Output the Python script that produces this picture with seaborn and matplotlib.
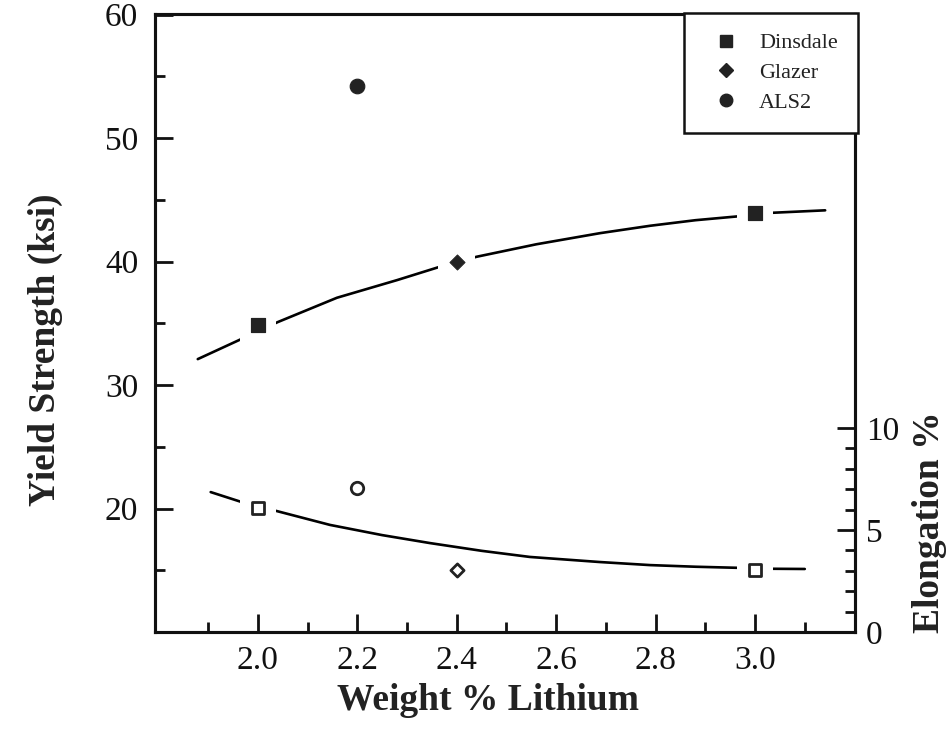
import numpy as np
import pandas as pd
import seaborn as sns
import matplotlib.pyplot as plt
from matplotlib.lines import Line2D
from matplotlib.ticker import FixedLocator

# ---- data ----
# Yield strength (left axis, ksi)
dinsdale_x = [2.0, 3.0]
dinsdale_ys = [34.9, 43.95]
glazer_x = [2.4]
glazer_ys = [40.0]
als2_x = [2.2]
als2_ys = [54.2]

# Elongation (right axis, %)
dinsdale_el = [6.1, 3.05]
glazer_el = [3.05]
als2_el = [7.05]

# Trend curves
ys_curve_x = [1.879, 1.976, 2.04, 2.159, 2.28, 2.366, 2.44, 2.56, 2.688, 2.789, 2.88, 2.976, 3.034, 3.141]
ys_curve_y = [32.1, 33.9, 35.1, 37.07, 38.5, 39.58, 40.39, 41.4, 42.3, 42.9, 43.35, 43.7, 43.95, 44.15]
el_curve_x = [1.905, 1.97, 2.03, 2.145, 2.25, 2.346, 2.45, 2.547, 2.688, 2.789, 2.88, 2.976, 3.034, 3.1]
el_curve_y = [6.86, 6.35, 5.98, 5.25, 4.75, 4.36, 3.98, 3.68, 3.43, 3.28, 3.2, 3.14, 3.1, 3.09]

x_ticks = [2.0, 2.2, 2.4, 2.6, 2.8, 3.0]
x_tick_labels = ["2.0", "2.2", "2.4", "2.6", "2.8", "3.0"]
y_ticks = [20, 30, 40, 50, 60]
el_ticks = [0, 5, 10]

sns.set_theme(style="white")
plt.rcParams['font.family'] = ['Liberation Serif', 'DejaVu Serif']

fig = plt.figure(figsize=(9.48, 7.3), dpi=100)
ax = fig.add_axes([155 / 948, 1 - 632 / 730, 700 / 948, 618 / 730])
ax2 = ax.twinx()

ax.set_xlim(1.793, 3.201)
ax.set_ylim(10, 60.05)
ax2.set_ylim(0, 30.3)

lw = 1.9
# curves
sns.lineplot(x=ys_curve_x, y=ys_curve_y, ax=ax, color='black', lw=lw, sort=False, estimator=None, zorder=2)
sns.lineplot(x=el_curve_x, y=el_curve_y, ax=ax2, color='black', lw=lw, sort=False, estimator=None, zorder=2)

# white halos (gaps in the curves around markers)
halo = dict(color='white', edgecolor='none', zorder=3, legend=False)
sns.scatterplot(x=dinsdale_x, y=dinsdale_ys, ax=ax, marker='s', s=700, **halo)
sns.scatterplot(x=glazer_x, y=glazer_ys, ax=ax, marker='s', s=700, **halo)
sns.scatterplot(x=dinsdale_x, y=dinsdale_el, ax=ax2, marker='s', s=700, **halo)

# filled markers (yield strength)
sns.scatterplot(x=dinsdale_x, y=dinsdale_ys, ax=ax, marker='s', s=115, color='#222222', edgecolor='#222222', zorder=4, legend=False)
sns.scatterplot(x=glazer_x, y=glazer_ys, ax=ax, marker='D', s=60, color='#222222', edgecolor='#222222', zorder=4, legend=False)
sns.scatterplot(x=als2_x, y=als2_ys, ax=ax, marker='o', s=110, color='#222222', edgecolor='#222222', zorder=4, legend=False)

# open markers (elongation)
sns.scatterplot(x=dinsdale_x, y=dinsdale_el, ax=ax2, marker='s', s=80, facecolor='white', edgecolor='#222222', linewidth=2, zorder=4, legend=False)
sns.scatterplot(x=glazer_x, y=glazer_el, ax=ax2, marker='D', s=45, facecolor='white', edgecolor='#222222', linewidth=2, zorder=4, legend=False)
sns.scatterplot(x=als2_x, y=als2_el, ax=ax2, marker='o', s=80, facecolor='white', edgecolor='#222222', linewidth=2, zorder=4, legend=False)

# axes styling
for a in (ax, ax2):
    for sp in a.spines.values():
        sp.set_color('#111111')
        sp.set_linewidth(2.2)
    a.grid(False)

ax.set_xticks(x_ticks)
ax.set_xticklabels(x_tick_labels)
ax.xaxis.set_minor_locator(FixedLocator([1.9, 2.1, 2.3, 2.5, 2.7, 2.9, 3.1]))
ax.set_yticks(y_ticks)
ax.yaxis.set_minor_locator(FixedLocator([15, 25, 35, 45, 55]))
ax2.set_yticks(el_ticks)
ax2.yaxis.set_minor_locator(FixedLocator([1, 2, 3, 4, 6, 7, 8, 9]))

tick_kw = dict(direction='in', colors='#111111', labelsize=24, width=2, pad=12)
ax.tick_params(axis='both', which='major', length=13, bottom=True, left=True, top=False, right=False, **tick_kw)
ax.tick_params(axis='both', which='minor', length=7, bottom=True, left=True, top=False, right=False, direction='in', width=2, colors='#111111')
ax2.tick_params(axis='y', which='major', length=13, right=True, left=False, **tick_kw)
ax2.tick_params(axis='y', which='minor', length=7, right=True, left=False, direction='in', width=2, colors='#111111')
ax.tick_params(axis='x', pad=10)
ax2.tick_params(axis='y', pad=8)

ax.set_xlabel("Weight % Lithium", fontsize=27, fontweight='bold', color='#222222')
ax.xaxis.set_label_coords((488 - 155) / 700, (632 - 701) / 618)
ax.xaxis.label.set_va('center')
ax.set_ylabel("Yield Strength (ksi)", fontsize=27, fontweight='bold', color='#222222')
ax.yaxis.set_label_coords((45 - 155) / 700, (632 - 350) / 618)
ax.yaxis.label.set_va('center')
ax2.set_ylabel("Elongation %", fontsize=27, fontweight='bold', color='#222222', rotation=90)
ax2.yaxis.set_label_coords((930 - 155) / 700, (632 - 522) / 618)
ax2.yaxis.label.set_va('center')

# legend
handles = [
    Line2D([], [], ls='none', marker='s', ms=9, color='#222222'),
    Line2D([], [], ls='none', marker='D', ms=7, color='#222222'),
    Line2D([], [], ls='none', marker='o', ms=9, color='#222222'),
]
leg = ax2.legend(handles, ["Dinsdale", "Glazer", "ALS2"], loc='upper right',
                 bbox_to_anchor=(1.004, 1.002), borderaxespad=0, fontsize=16,
                 frameon=True, fancybox=False, edgecolor='#111111',
                 handlelength=2.0, handletextpad=0.49, labelspacing=0.42,
                 borderpad=0.9, framealpha=1)
leg.get_frame().set_linewidth(1.8)
leg.set_zorder(10)
for t in leg.get_texts():
    t.set_color('#222222')

fig.savefig("out.png", dpi=100, facecolor='white')
